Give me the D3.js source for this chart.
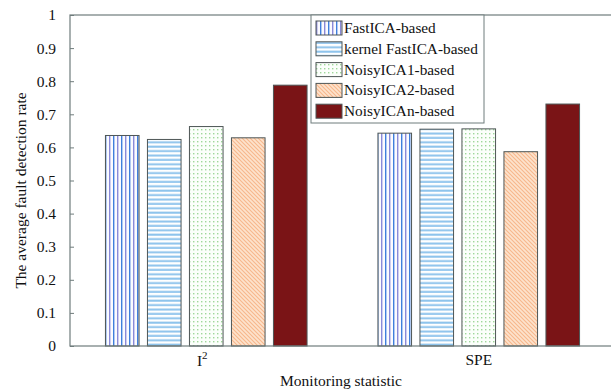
<!DOCTYPE html>
<html>
<head>
<meta charset="utf-8">
<script src="https://cdn.jsdelivr.net/npm/d3@7"></script>
<style>
  body { margin: 0; background: #fff; }
  text { font-family: "Liberation Serif", "Times New Roman", serif; fill: #111; }
</style>
</head>
<body>
<svg id="chart" width="611" height="391"></svg>
<script>
// data
var categories = ["I2", "SPE"];
var seriesNames = ["FastICA-based", "kernel FastICA-based", "NoisyICA1-based", "NoisyICA2-based", "NoisyICAn-based"];
var fastICA = [0.636, 0.643];
var kernelFastICA = [0.624, 0.655];
var noisyICA1 = [0.663, 0.656];
var noisyICA2 = [0.629, 0.587];
var noisyICAn = [0.788, 0.731];
var yTicks = [0, 0.1, 0.2, 0.3, 0.4, 0.5, 0.6, 0.7, 0.8, 0.9, 1];

function draw(){
  var allSeries = [fastICA, kernelFastICA, noisyICA1, noisyICA2, noisyICAn];
  var fills = ["url(#pVert)", "url(#pHoriz)", "url(#pDots)", "url(#pDiag)", "#7a1416"];

  var svg = d3.select("#chart");
  var mLeft = 70, mRight = 615, mTop = 15, mBottom = 346;
  var axisColor = "#6f7c7c";

  // patterns
  var defs = svg.append("defs");
  var pv = defs.append("pattern").attr("id", "pVert").attr("patternUnits", "userSpaceOnUse")
    .attr("width", 8).attr("height", 8);
  pv.append("rect").attr("width", 8).attr("height", 8).attr("fill", "#fbfbff");
  pv.append("rect").attr("x", 1).attr("width", 1.4).attr("height", 8).attr("fill", "#3f7fdc");
  pv.append("rect").attr("x", 5).attr("width", 1.4).attr("height", 8).attr("fill", "#8a8ad8");

  var ph = defs.append("pattern").attr("id", "pHoriz").attr("patternUnits", "userSpaceOnUse")
    .attr("width", 8).attr("height", 4.4);
  ph.append("rect").attr("width", 8).attr("height", 4.4).attr("fill", "#fff");
  ph.append("rect").attr("y", 0.5).attr("width", 8).attr("height", 2).attr("fill", "#8dc3ec");

  var pd = defs.append("pattern").attr("id", "pDots").attr("patternUnits", "userSpaceOnUse")
    .attr("width", 4).attr("height", 4);
  pd.append("rect").attr("width", 4).attr("height", 4).attr("fill", "#fbfffb");
  pd.append("rect").attr("x", 1).attr("y", 1).attr("width", 1.4).attr("height", 1.4).attr("fill", "#9fd79a");

  var pg = defs.append("pattern").attr("id", "pDiag").attr("patternUnits", "userSpaceOnUse")
    .attr("width", 4).attr("height", 4);
  pg.append("rect").attr("width", 4).attr("height", 4).attr("fill", "#fde3cd");
  pg.append("path").attr("d", "M-1,-1 L5,5 M-1,3 L1,5 M3,-1 L5,1")
    .attr("stroke", "#f7b78c").attr("stroke-width", 1.1);

  // scales
  var x = d3.scaleLinear().domain([0.5, 2.5]).range([mLeft, mRight]);
  var xs = d3.scaleBand().domain(d3.range(seriesNames.length)).range([-100.8, 100.8]).paddingInner(0.2);
  var y = d3.scaleLinear().domain([0, 1]).range([mBottom, mTop]);

  // bars
  categories.forEach(function(cat, ci){
    allSeries.forEach(function(vals, si){
      svg.append("rect")
        .attr("x", x(ci + 1) + xs(si))
        .attr("y", y(vals[ci]))
        .attr("width", xs.bandwidth())
        .attr("height", y(0) - y(vals[ci]))
        .attr("fill", fills[si])
        .attr("stroke", "#4e5656")
        .attr("stroke-width", 1);
    });
  });

  // frame
  svg.append("rect").attr("x", mLeft).attr("y", mTop)
    .attr("width", mRight - mLeft).attr("height", mBottom - mTop)
    .attr("fill", "none").attr("stroke", axisColor).attr("stroke-width", 1.2);

  // left axis, ticks inward
  var ya = svg.append("g").attr("transform", "translate(" + mLeft + ",0)")
    .call(d3.axisRight(y).tickValues(yTicks).tickSize(4).tickFormat(d3.format("~g")))
    .attr("font-family", "Liberation Serif").attr("font-size", 15.5);
  ya.select(".domain").remove();
  ya.selectAll("line").attr("stroke", axisColor);
  ya.selectAll("text").attr("x", -14).attr("text-anchor", "end").attr("fill", "#111");

  // right axis, ticks inward
  var yr = svg.append("g").attr("transform", "translate(" + mRight + ",0)")
    .call(d3.axisLeft(y).tickValues(yTicks).tickSize(4).tickFormat(""));
  yr.select(".domain").remove();
  yr.selectAll("line").attr("stroke", axisColor);

  // category labels
  var t1 = svg.append("text").attr("x", x(1) - 4).attr("y", 366).attr("text-anchor", "middle")
    .style("font-size", "15.5px");
  t1.append("tspan").text("I");
  t1.append("tspan").attr("dy", -7).style("font-size", "11px").text("2");
  svg.append("text").attr("x", x(2)).attr("y", 365).attr("text-anchor", "middle")
    .style("font-size", "15.5px").text("SPE");

  // axis titles
  svg.append("text").attr("x", (mLeft + 612) / 2).attr("y", 386).attr("text-anchor", "middle")
    .style("font-size", "15.5px").text("Monitoring statistic");
  svg.append("text").attr("transform", "translate(26," + ((mTop + mBottom) / 2 + 10) + ") rotate(-90)")
    .attr("text-anchor", "middle").style("font-size", "15.5px")
    .text("The average fault detection rate");

  // legend
  var lg = svg.append("g").attr("transform", "translate(311,15)");
  lg.append("rect").attr("width", 173).attr("height", 108)
    .attr("fill", "#fff").attr("stroke", axisColor).attr("stroke-width", 1);
  seriesNames.forEach(function(name, i){
    var cy = 13 + i * 20.8;
    lg.append("rect").attr("x", 5).attr("y", cy - 7).attr("width", 26).attr("height", 14)
      .attr("fill", fills[i]).attr("stroke", "#4e5656").attr("stroke-width", 1);
    lg.append("text").attr("x", 33).attr("y", cy + 5).style("font-size", "15.3px").text(name);
  });
}

draw();
</script>
</body>
</html>
